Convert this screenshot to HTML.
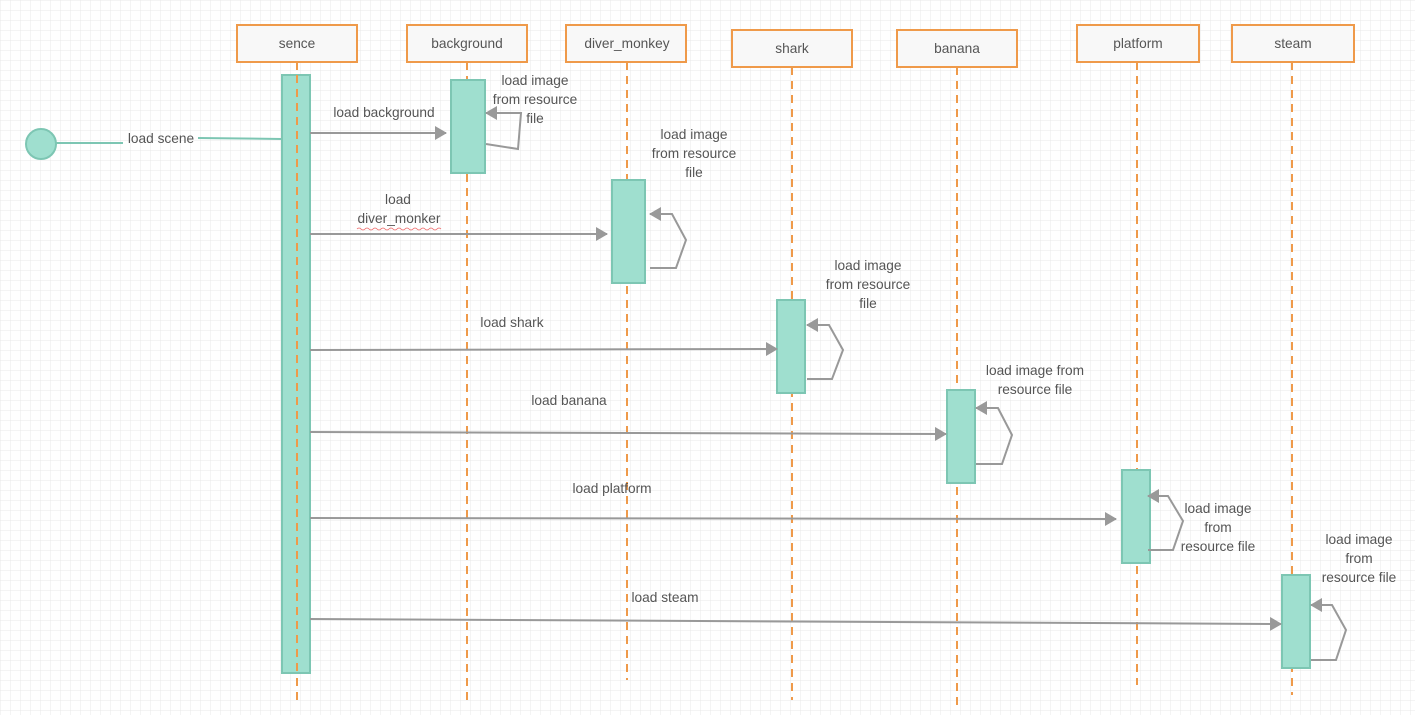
<!DOCTYPE html>
<html><head><meta charset="utf-8"><style>
html,body{margin:0;padding:0;background:#fff}
svg{display:block}
text{font-family:"Liberation Sans",sans-serif;font-size:13.7px;fill:#555}
</style></head><body>
<svg width="1415" height="715" xmlns="http://www.w3.org/2000/svg">
<defs>
<pattern id="g" width="10" height="10" patternUnits="userSpaceOnUse"><path d="M10 0H0V10" fill="none" stroke="#e9e9e9" stroke-width="1"/></pattern>
<marker id="a" markerWidth="12" markerHeight="14" refX="11" refY="7" orient="auto" markerUnits="userSpaceOnUse"><path d="M0,0 L12,7 L0,14 Z" fill="#999"/></marker>
</defs>
<rect width="1415" height="715" fill="url(#g)"/>
<g stroke="#ef9a4a" stroke-width="2" stroke-dasharray="8,6">
<line x1="297" y1="62" x2="297" y2="700"/>
<line x1="467" y1="62" x2="467" y2="700"/>
<line x1="627" y1="62" x2="627" y2="680"/>
<line x1="792" y1="67" x2="792" y2="700"/>
<line x1="957" y1="67" x2="957" y2="705"/>
<line x1="1137" y1="62" x2="1137" y2="685"/>
<line x1="1292" y1="62" x2="1292" y2="695"/>
</g>
<g fill="#f8f8f8" stroke="#ef9a4a" stroke-width="2">
<rect x="237" y="25" width="120" height="37"/>
<rect x="407" y="25" width="120" height="37"/>
<rect x="566" y="25" width="120" height="37"/>
<rect x="732" y="30" width="120" height="37"/>
<rect x="897" y="30" width="120" height="37"/>
<rect x="1077" y="25" width="122" height="37"/>
<rect x="1232" y="25" width="122" height="37"/>
</g>
<g text-anchor="middle">
<text x="297" y="48">sence</text><text x="467" y="48">background</text><text x="627" y="48">diver_monkey</text>
<text x="792" y="53">shark</text><text x="957" y="53">banana</text><text x="1138" y="48">platform</text><text x="1293" y="48">steam</text>
</g>
<g fill="#9fdfcf" stroke="#7dc6b3" stroke-width="2">
<rect x="282" y="75" width="28" height="598"/>
<rect x="451" y="80" width="34" height="93"/>
<rect x="612" y="180" width="33" height="103"/>
<rect x="777" y="300" width="28" height="93"/>
<rect x="947" y="390" width="28" height="93"/>
<rect x="1122" y="470" width="28" height="93"/>
<rect x="1282" y="575" width="28" height="93"/>
</g>
<line x1="297" y1="75" x2="297" y2="673" stroke="#ef9a4a" stroke-width="2" stroke-dasharray="8,6"/>
<circle cx="41" cy="144" r="15" fill="#9fdfcf" stroke="#7dc6b3" stroke-width="2"/>
<line x1="56" y1="143" x2="123" y2="143" stroke="#7dc6b3" stroke-width="2"/>
<line x1="198" y1="138" x2="282" y2="139" stroke="#7dc6b3" stroke-width="2"/>
<text x="161" y="143" text-anchor="middle">load scene</text>
<g stroke="#999" stroke-width="2" fill="none" marker-end="url(#a)">
<line x1="310" y1="133" x2="446" y2="133"/>
<line x1="310" y1="234" x2="607" y2="234"/>
<line x1="310" y1="350" x2="777" y2="349"/>
<line x1="310" y1="432" x2="946" y2="434"/>
<line x1="310" y1="518" x2="1116" y2="519"/>
<line x1="310" y1="619" x2="1281" y2="624"/>
<polyline points="486,144 518,149 521,113 486,113"/>
<polyline points="650,268 676,268 686,240 672,214 650,214"/>
<polyline points="807,379 832,379 843,350 829,325 807,325"/>
<polyline points="976,464 1002,464 1012,435 998,408 976,408"/>
<polyline points="1148,550 1173,550 1183,521 1168,496 1148,496"/>
<polyline points="1311,660 1336,660 1346,630 1332,605 1311,605"/>
</g>
<g text-anchor="middle">
<text x="384" y="117">load background</text>
<text x="398" y="204">load</text><text x="399" y="223">diver_monker</text>
<text x="512" y="327">load shark</text>
<text x="569" y="405">load  banana</text>
<text x="612" y="493">load platform</text>
<text x="665" y="602">load steam</text>
<text x="535" y="85">load image</text><text x="535" y="104">from resource</text><text x="535" y="123">file</text>
<text x="694" y="139">load image</text><text x="694" y="158">from resource</text><text x="694" y="177">file</text>
<text x="868" y="270">load image</text><text x="868" y="289">from resource</text><text x="868" y="308">file</text>
<text x="1035" y="375">load image from</text><text x="1035" y="394">resource file</text>
<text x="1218" y="513">load image</text><text x="1218" y="532">from</text><text x="1218" y="551">resource file</text>
<text x="1359" y="544">load image</text><text x="1359" y="563">from</text><text x="1359" y="582">resource file</text>
</g>
<path d="M357,229 q2,-2 4,0 t4,0 t4,0 t4,0 t4,0 t4,0 t4,0 t4,0 t4,0 t4,0 t4,0 t4,0 t4,0 t4,0 t4,0 t4,0 t4,0 t4,0 t4,0 t4,0 t4,0" stroke="#e66" stroke-width="0.8" fill="none"/>
</svg>
</body></html>
